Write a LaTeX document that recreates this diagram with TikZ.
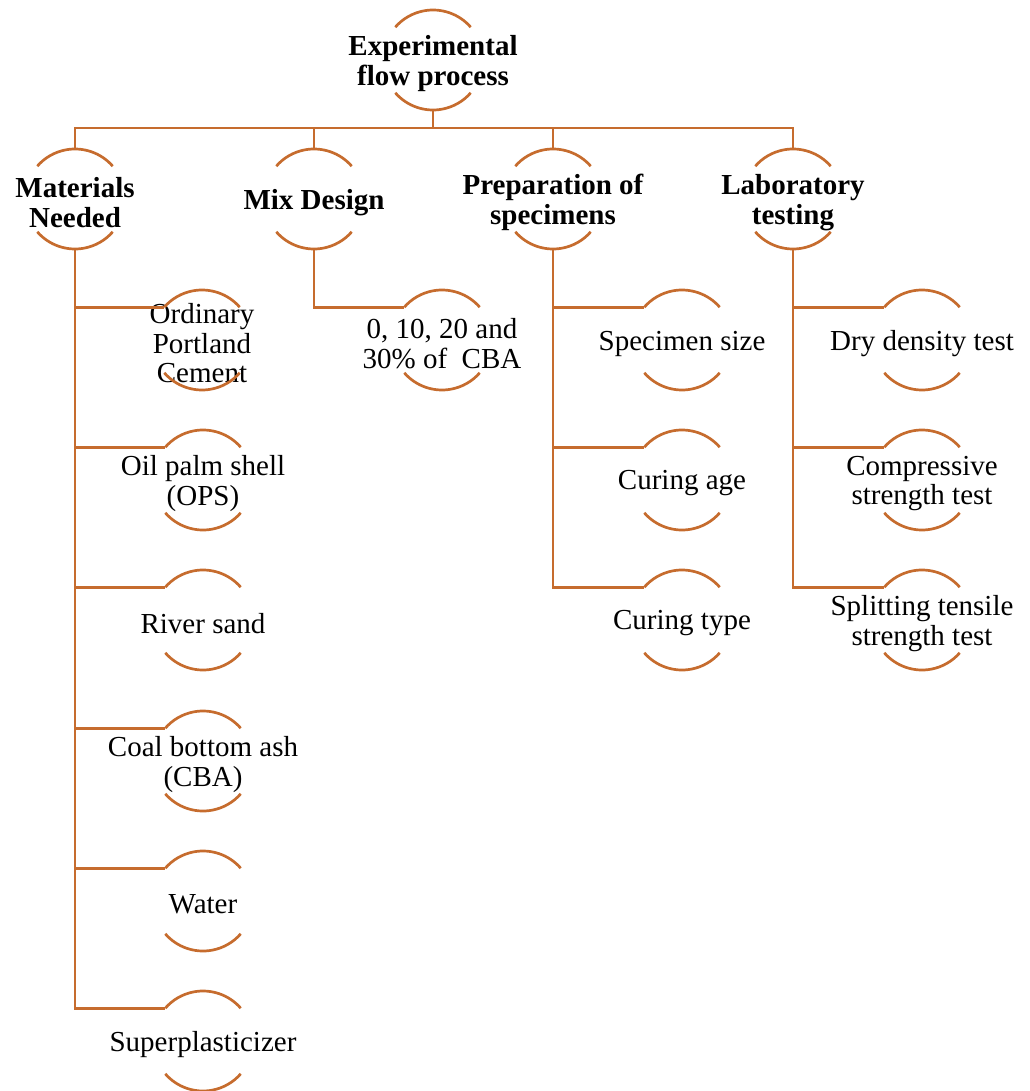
\documentclass[tikz,border=0pt]{standalone}
\usepackage{fontspec}
\setmainfont{Liberation Serif}
\usetikzlibrary{calc}
\definecolor{orn}{RGB}{198,108,46}
\tikzset{
  ln/.style={draw=orn, line width=2.7pt},
  txt/.style={inner sep=0pt, align=center, yshift=-3.5pt, font=\fontsize{29}{29.5}\selectfont},
  bold/.style={font=\fontsize{29}{29.5}\selectfont\bfseries},
}
% name, x, y (downward), extra style, text
\newcommand\cnode[5]{%
  \node[txt,#4] (#1) at (#2,-#3) {#5};
  \draw[ln] ([shift={(#2,-#3)}]41:50) arc[start angle=41,end angle=139,radius=50];
  \draw[ln] ([shift={(#2,-#3)}]221:50) arc[start angle=221,end angle=319,radius=50];
  \coordinate (#1-t) at ([shift={(#2,-#3)}]90:50);
  \coordinate (#1-b) at ([shift={(#2,-#3)}]270:50);
  \coordinate (#1-l) at ([shift={(#2,-#3)}]139:50);
}
\begin{document}
\begin{tikzpicture}[x=1pt,y=1pt]
\useasboundingbox (0,0) rectangle (1029,-1091);
% root
\cnode{root}{433}{60}{bold}{Experimental\\flow process}
% level 1
\cnode{mat}{75}{199}{bold}{Materials\\Needed}
\cnode{mix}{314}{199}{bold}{Mix Design}
\cnode{prep}{553}{199}{bold}{Preparation of\\specimens}
\cnode{lab}{793}{199}{bold}{Laboratory\\testing}
% materials
\cnode{opc}{202}{340}{}{Ordinary\\Portland\\Cement}
\cnode{ops}{203}{480}{}{Oil palm shell\\(OPS)}
\cnode{sand}{203}{620}{}{River sand}
\cnode{cba}{203}{761}{}{Coal bottom ash\\(CBA)}
\cnode{water}{203}{901}{}{Water}
\cnode{sp}{203}{1041}{}{Superplasticizer}
% mix
\cnode{pct}{442}{340}{}{0, 10, 20 and\\30\% of \ CBA}
% preparation
\cnode{size}{682}{340}{}{Specimen size}
\cnode{age}{682}{480}{}{Curing age}
\cnode{type}{682}{620}{}{Curing type}
% lab
\cnode{dry}{922}{340}{}{Dry density test}
\cnode{comp}{922}{480}{}{Compressive\\strength test}
\cnode{split}{922}{620}{}{Splitting tensile\\strength test}
% connectors
\coordinate (bus) at (433,-128);
\draw[ln] (root-b) -- (bus);
\foreach \n in {mat,mix,prep,lab} \draw[ln] (bus) -| (\n-t);
\foreach \n in {opc,ops,sand,cba,water,sp} \draw[ln] (mat-b) |- (\n-l);
\draw[ln] (mix-b) |- (pct-l);
\foreach \n in {size,age,type} \draw[ln] (prep-b) |- (\n-l);
\foreach \n in {dry,comp,split} \draw[ln] (lab-b) |- (\n-l);
\end{tikzpicture}
\end{document}
